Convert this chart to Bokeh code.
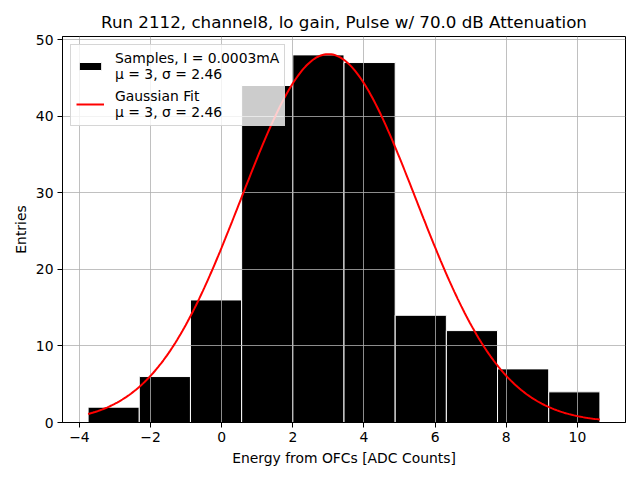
import numpy as np
from bokeh.plotting import figure
from bokeh.models import Range1d, FixedTicker, Legend, LegendItem, ColumnDataSource
from bokeh.embed import file_html
from bokeh.resources import INLINE

# ---- data ----
bin_edges = [-3.757, -2.318, -0.879, 0.560, 1.999, 3.438, 4.877, 6.316, 7.755, 9.194, 10.633]
counts = [2, 6, 16, 44, 48, 47, 14, 12, 7, 4]
fit_mu = 3.0
fit_sigma = 2.46
fit_amp = 48.1
x_ticks = [-4, -2, 0, 2, 4, 6, 8, 10]
y_ticks = [0, 10, 20, 30, 40, 50]
title_text = "Run 2112, channel8, lo gain, Pulse w/ 70.0 dB Attenuation"
sample_label = "Samples, I = 0.0003mA\nμ = 3, σ = 2.46"
fit_label = "Gaussian Fit\nμ = 3, σ = 2.46"

FONT = "DejaVu Sans"

bars_src = ColumnDataSource(dict(left=bin_edges[:-1], right=bin_edges[1:],
                                 top=counts, bottom=[0] * len(counts)))
fx = np.linspace(bin_edges[0], bin_edges[-1], 300)
fy = fit_amp * np.exp(-0.5 * ((fx - fit_mu) / fit_sigma) ** 2)
fit_src = ColumnDataSource(dict(x=fx, y=fy))

span = bin_edges[-1] - bin_edges[0]
p = figure(width=640, height=480, output_backend="svg", toolbar_location=None,
           x_range=Range1d(bin_edges[0] - 0.05 * span, bin_edges[-1] + 0.05 * span),
           y_range=Range1d(0, max(counts) * 1.05),
           title=title_text)
p.min_border_left = 62
p.min_border_right = 15
p.min_border_top = 36
p.min_border_bottom = 58
p.background_fill_color = "white"
p.border_fill_color = "white"
p.outline_line_color = "black"
p.outline_line_width = 1
p.outline_line_alpha = 1

p.title.text_font = FONT
p.title.text_font_size = "16.7px"
p.title.text_font_style = "normal"
p.title.align = "center"
p.title.text_color = "black"

bars = p.quad(left="left", right="right", top="top", bottom="bottom", source=bars_src,
              fill_color="black", line_color="white", line_width=1, level="image")
line = p.line("x", "y", source=fit_src, line_color="red", line_width=2)

p.xaxis.ticker = FixedTicker(ticks=x_ticks)
p.yaxis.ticker = FixedTicker(ticks=y_ticks)
p.xaxis.major_label_overrides = {t: ("−" + str(-t) if t < 0 else str(t)) for t in x_ticks}
for ax in (p.xaxis, p.yaxis):
    ax.axis_line_color = "black"
    ax.major_tick_line_color = "black"
    ax.major_tick_out = 5
    ax.major_tick_in = 0
    ax.minor_tick_line_color = None
    ax.major_label_text_font = FONT
    ax.major_label_text_font_size = "13.9px"
    ax.major_label_text_color = "black"
    ax.major_label_standoff = 4
    ax.axis_label_text_font = FONT
    ax.axis_label_text_font_size = "13.9px"
    ax.axis_label_text_font_style = "normal"
    ax.axis_label_text_color = "black"
p.xaxis.axis_label = "Energy from OFCs [ADC Counts]"
p.yaxis.axis_label = "Entries"
p.xaxis.axis_label_standoff = 5
p.yaxis.axis_label_standoff = 4

p.grid.grid_line_color = "#b0b0b0"
p.grid.grid_line_width = 0.8

legend = Legend(items=[LegendItem(label=sample_label, renderers=[bars]),
                       LegendItem(label=fit_label, renderers=[line])],
                location="top_left")
legend.margin = 8
legend.padding = 5
legend.spacing = 6
legend.glyph_width = 28
legend.glyph_height = 10
legend.label_standoff = 11
legend.label_text_font = FONT
legend.label_text_font_size = "13.9px"
legend.label_text_line_height = 1.35
legend.label_text_color = "black"
legend.background_fill_color = "white"
legend.background_fill_alpha = 0.8
legend.border_line_color = "#cccccc"
legend.border_line_alpha = 0.8
legend.border_line_width = 1
p.add_layout(legend)

open("out.html", "w").write(file_html(p, INLINE))
